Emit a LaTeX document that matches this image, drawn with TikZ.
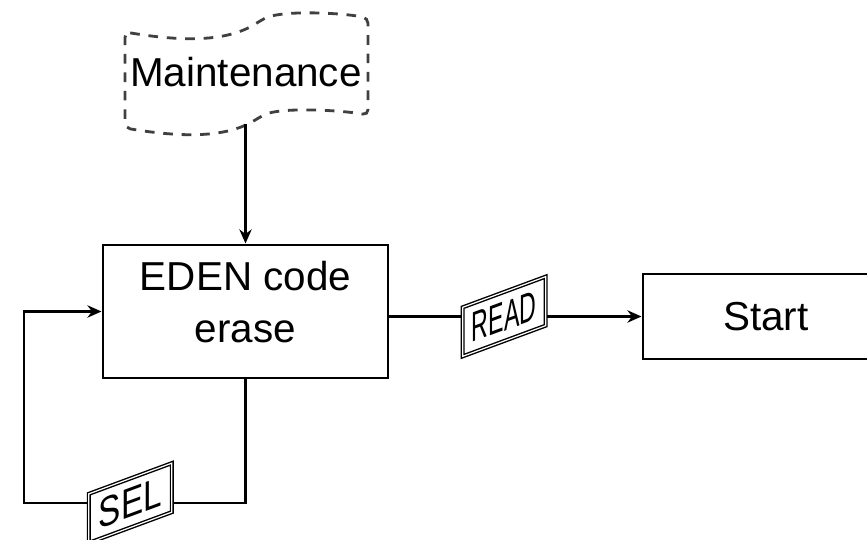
\documentclass[tikz,border=0pt]{standalone}
\usepackage{fontspec}
\setmainfont{Liberation Sans}
\usetikzlibrary{arrows.meta}
\usetikzlibrary{positioning}

\begin{document}
\begin{tikzpicture}[
        >={Stealth[length=8pt,width=7pt]},
        every node/.style={font=\fontsize{23}{29.6}\selectfont},
        block/.style={draw,line width=1.7pt,inner sep=0pt},
        tape/.style={draw=black!75,line width=1.6pt,dash pattern=on 5.5pt off 5pt,rounded corners=3pt},
        link/.style={line width=1.3pt},
        tag/.style={draw,fill=white,line width=0.8pt,double,double distance=0.7pt,yslant=0.37,transform shape,
                    minimum width=1.66cm,minimum height=0.98cm,inner sep=0pt,font=\fontsize{24}{28}\selectfont}]
            \useasboundingbox (0,0) rectangle (17.34,-10.8);

            % punched tape with the maintenance label
            \draw[tape] (2.5,-0.64) .. controls (3.8,-0.86) and (4.6,-0.8) .. (5.2,-0.42)
                .. controls (5.6,-0.2) and (6.8,-0.25) .. (7.36,-0.36) -- (7.36,-2.3)
                .. controls (6.8,-2.2) and (5.6,-2.14) .. (5.2,-2.34)
                .. controls (4.6,-2.72) and (3.8,-2.78) .. (2.5,-2.56) -- cycle;
            \node (maint) at (4.92,-1.45) {Maintenance};

            \node[block,minimum width=5.7cm,minimum height=2.66cm,align=center,text depth=0.38cm] (eden) at (4.91,-6.23) {EDEN code\\erase};
            \node[block,minimum width=4.92cm,minimum height=1.7cm] (start) at (15.32,-6.33) {Start};

            \coordinate (tapeend) at (eden.north |- 0,-2.48);
            \coordinate (loopr) at (eden.south |- 0,-10.06);
            \coordinate (loopl) at (0.48,-10.06);

            \draw[link,->] (tapeend) -- (eden.north);
            \draw[link,->] (eden.east |- start.west) -- node[tag,pos=0.455]{\scalebox{0.55}[1]{READ}} (start.west);
            \draw[link,->] (eden.south) -- (loopr) -- node[tag,pos=0.52]{\scalebox{0.79}[1]{SEL}} (loopl) |- (eden.west);
        \end{tikzpicture}
\end{document}
